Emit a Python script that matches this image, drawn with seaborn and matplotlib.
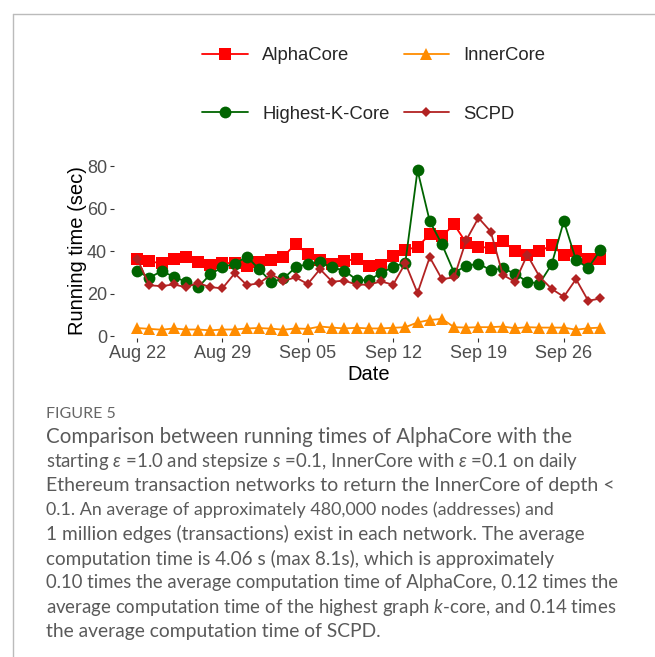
import matplotlib
matplotlib.use('Agg')
import matplotlib.pyplot as plt
import matplotlib.dates as mdates
from matplotlib.lines import Line2D
import seaborn as sns
import pandas as pd

# daily running times (sec), Aug 22 - Sep 29
dates = pd.date_range('2019-08-22', '2019-09-29', freq='D')
alphacore = [36.5, 35.1, 34.3, 36.2, 37.0, 34.8, 33.4, 34.5, 34.2, 33.2,
             34.7, 36.0, 37.4, 43.4, 38.5, 35.8, 34.0, 35.1, 36.5, 33.2,
             33.5, 37.7, 40.5, 42.0, 47.8, 47.0, 52.5, 43.8, 41.9, 41.6,
             44.6, 40.0, 38.0, 39.9, 42.7, 38.0, 40.0, 36.5, 36.5]
highest_k_core = [30.5, 27.5, 30.5, 28.0, 25.5, 23.0, 29.0, 32.5, 34.0, 37.4,
                  31.5, 25.4, 27.1, 32.3, 34.0, 34.8, 32.3, 30.8, 26.5, 26.2,
                  29.7, 32.5, 34.6, 78.0, 54.1, 43.2, 29.9, 33.0, 34.1, 31.0,
                  31.8, 29.4, 25.5, 24.7, 33.7, 54.1, 35.7, 32.1, 40.4]
innercore = [3.8, 3.4, 3.0, 3.6, 3.1, 3.1, 2.7, 3.1, 3.1, 3.6,
             3.8, 3.5, 3.0, 3.6, 3.4, 4.5, 4.0, 3.6, 3.9, 3.6,
             3.6, 3.9, 4.2, 6.4, 7.6, 8.1, 4.2, 4.0, 4.2, 4.2,
             4.5, 3.7, 4.2, 4.0, 4.0, 4.0, 3.0, 3.7, 4.0]
scpd = [36.5, 23.9, 23.5, 24.3, 23.0, 25.0, 23.0, 22.5, 29.5, 24.0,
        24.8, 29.0, 26.0, 27.6, 24.5, 31.5, 25.6, 26.1, 24.2, 24.2,
        25.7, 24.2, 34.3, 20.3, 37.1, 26.8, 27.6, 45.2, 55.6, 49.2,
        28.8, 25.5, 38.2, 28.0, 22.2, 18.5, 26.8, 16.6, 17.7]
tick_dates = pd.date_range('2019-08-22', periods=6, freq='7D')
yticks = [0, 20, 40, 60, 80]

caption = [
    "Comparison between running times of AlphaCore with the",
    r"starting $\epsilon$ =1.0 and stepsize $s$ =0.1, InnerCore with $\epsilon$ =0.1 on daily",
    "Ethereum transaction networks to return the InnerCore of depth <",
    "0.1. An average of approximately 480,000 nodes (addresses) and",
    "1 million edges (transactions) exist in each network. The average",
    "computation time is 4.06 s (max 8.1s), which is approximately",
    "0.10 times the average computation time of AlphaCore, 0.12 times the",
    r"average computation time of the highest graph $k$-core, and 0.14 times",
    "the average computation time of SCPD.",
]
# the justified original squeezes some lines tighter than others
cap_sizes = [14.8, 13.4, 14.0, 12.9, 13.75, 13.6, 13.35, 13.45, 13.9]

sns.set_theme(style='white')
plt.rcParams['font.family'] = ['Liberation Sans', 'DejaVu Sans']
plt.rcParams['mathtext.fontset'] = 'custom'
plt.rcParams['mathtext.rm'] = 'Lato'
plt.rcParams['mathtext.it'] = 'Lato:italic'

fig = plt.figure(figsize=(6.55, 6.57), dpi=100)
ax = fig.add_axes([0.174, 0.485, 0.778, 0.268])

# name, values, colour, marker, size  (drawn in ggplot factor order)
series = [('AlphaCore', alphacore, '#FF0000', 's', 8.3),
          ('Highest-K-Core', highest_k_core, '#006400', 'o', 8.5),
          ('InnerCore', innercore, '#FF8C00', '^', 9.0),
          ('SCPD', scpd, '#B22222', 'D', 5.0)]
handles = []
for name, vals, col, mk, ms in series:
    sns.lineplot(x=dates, y=vals, ax=ax, color=col, marker=mk, markersize=ms,
                 markeredgewidth=0, linewidth=1.3, legend=False)
    handles.append(Line2D([], [], color=col, marker=mk, markersize=ms,
                          markeredgewidth=0, linewidth=1.3, label=name))

ax.set_xticks(tick_dates)
ax.xaxis.set_major_formatter(mdates.DateFormatter('%b %d'))
ax.set_yticks(yticks)
for s in ax.spines.values():
    s.set_visible(False)
ax.tick_params(bottom=True, left=True, length=3, width=0.8, color='#333333',
               labelcolor='#4D4D4D', labelsize=13, pad=2)
ax.set_xlabel('Date', fontsize=14.5, color='black', labelpad=2)
ax.set_ylabel('Running time (sec)', fontsize=14.5, color='black', labelpad=0)

fig.legend(handles=handles, loc='center', bbox_to_anchor=(0.571, 0.871), ncol=2,
           frameon=False, fontsize=13.3, handlelength=2.45, handletextpad=0.8,
           columnspacing=0.75, labelspacing=2.25)

# page border of the figure panel
fig.add_artist(Line2D([13 / 655, 1], [1 - 14 / 657, 1 - 14 / 657],
                      transform=fig.transFigure, color='#BBBBBB', linewidth=1))
fig.add_artist(Line2D([13 / 655, 13 / 655], [0, 1 - 14 / 657],
                      transform=fig.transFigure, color='#BBBBBB', linewidth=1))

cap_font = ['Lato', 'DejaVu Sans']
fig.text(0.070, 1 - 414 / 657, 'FIGURE 5', fontsize=11.5, color='#666666',
         family=cap_font, va='center')
for i, line in enumerate(caption):
    fig.text(0.070, 1 - (437 + i * 24.3) / 657, line, fontsize=cap_sizes[i],
             color='#5A5A5A', family=cap_font, va='center')

fig.savefig('out.png', dpi=100)
